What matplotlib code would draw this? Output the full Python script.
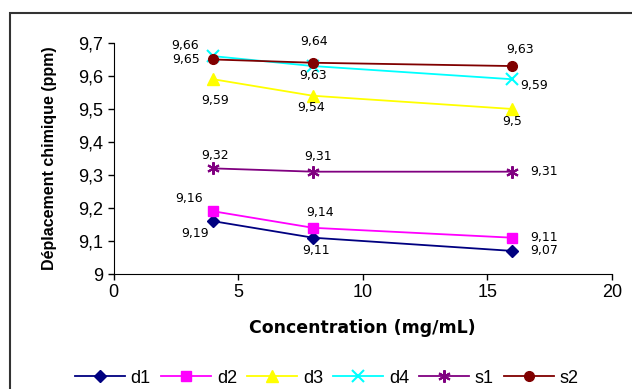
import matplotlib.pyplot as plt
from matplotlib.patches import Rectangle

plt.rcParams['font.family'] = ['Liberation Sans', 'DejaVu Sans']

# données
conc = [4, 8, 16]
series = ['d1', 'd2', 'd3', 'd4', 's1', 's2']
d1 = [9.16, 9.11, 9.07]
d2 = [9.19, 9.14, 9.11]
d3 = [9.59, 9.54, 9.50]
d4 = [9.66, 9.63, 9.59]
s1 = [9.32, 9.31, 9.31]
s2 = [9.65, 9.64, 9.63]
values = [d1, d2, d3, d4, s1, s2]

# étiquettes telles qu'affichées
lab_d1 = ['9,19', '9,11', '9,07']
lab_d2 = ['9,16', '9,14', '9,11']
lab_d3 = ['9,59', '9,54', '9,5']
lab_d4 = ['9,66', '9,63', '9,59']
lab_s1 = ['9,32', '9,31', '9,31']
lab_s2 = ['9,65', '9,64', '9,63']
labels = [lab_d1, lab_d2, lab_d3, lab_d4, lab_s1, lab_s2]

yticks = [9.0, 9.1, 9.2, 9.3, 9.4, 9.5, 9.6, 9.7]
ytick_labels = ['9', '9,1', '9,2', '9,3', '9,4', '9,5', '9,6', '9,7']
xticks = [0, 5, 10, 15, 20]

# style
colors = ['#000080', '#FF00FF', '#FFFF00', '#00FFFF', '#800080', '#800000']
markers = ['D', 's', '^', 'x', (6, 2, 0), 'o']
msizes = [6, 7, 8, 8, 9, 7]
# décalages des étiquettes en pixels (dx, dy vers le haut)
offsets = [
    [(-18, -12), (3, -13), (32, 0)],
    [(-24, 13), (7, 15), (32, 0)],
    [(2, -21), (-2, -12), (0, -13)],
    [(-28, 11), (0, -9), (22, -6)],
    [(2, 13), (5, 15), (32, 0)],
    [(-27, 0), (1, 21), (8, 17)],
]

fig = plt.figure(figsize=(6.32, 3.89), dpi=100)
ax = fig.add_axes([0.180, 0.2956, 0.788, 0.594])

# cadre extérieur
fig.patches.append(Rectangle((10 / 632, -0.1), 1.2, 1.1 - 13 / 389,
                             transform=fig.transFigure, fill=False,
                             edgecolor='#333333', linewidth=1.5))

for name, y, lab, c, m, ms, offs in zip(series, values, labels, colors,
                                        markers, msizes, offsets):
    ax.plot(conc, y, color=c, marker=m, markersize=ms, linewidth=1.3,
            markeredgewidth=1.5 if m in ('x', (6, 2, 0)) else 1,
            label=name, clip_on=False)
    for xv, yv, t, (dx, dy) in zip(conc, y, lab, offs):
        ax.annotate(t, (xv, yv), xytext=(dx * 0.72, dy * 0.72),
                    textcoords='offset points', ha='center', va='center',
                    fontsize=9, family='DejaVu Sans')

ax.set_xlim(0, 20)
ax.set_ylim(9.0, 9.7)
ax.set_xticks(xticks)
ax.set_yticks(yticks)
ax.set_yticklabels(ytick_labels)
ax.tick_params(labelsize=13, direction='out', length=4, width=1)
for lbl in ax.get_xticklabels() + ax.get_yticklabels():
    lbl.set_fontfamily('Liberation Sans')
ax.spines['top'].set_visible(False)
ax.spines['right'].set_visible(False)

ax.set_xlabel('Concentration (mg/mL)', fontsize=12.5, fontweight='bold',
              family='DejaVu Sans', labelpad=13)
ax.set_ylabel('Déplacement chimique (ppm)', fontsize=11.5, fontweight='bold',
              family='Liberation Sans', labelpad=15)

fig.legend(loc='center', bbox_to_anchor=(0.517, 0.028), ncol=6,
           frameon=False, prop={'family': 'Liberation Sans', 'size': 13},
           handlelength=2.8, handletextpad=0.3, columnspacing=0.55)

fig.savefig('out.png', dpi=100)
